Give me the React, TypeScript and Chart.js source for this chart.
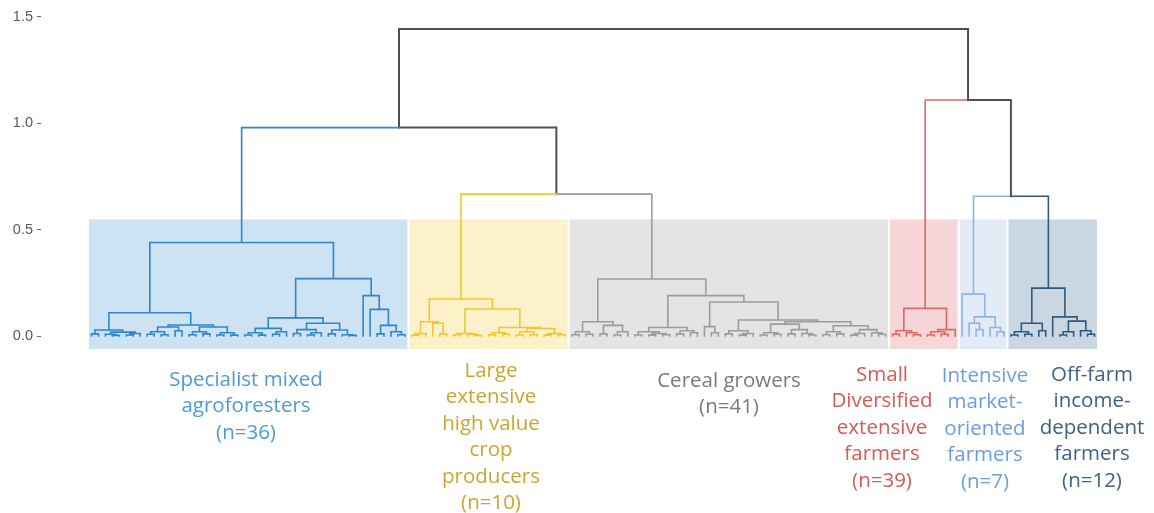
import React, { useEffect, useRef } from "react";
import { Chart, registerables } from "chart.js";

Chart.register(...registerables);

type TreeNode = 0 | [number, TreeNode, TreeNode];

// ---- DATA ----
// Each cluster subtree: leaf = 0, merge = [height, left, right]
const blueTree: TreeNode = [0.44,
  [0.109,
    [0.028, [0.01, 0, 0], [0.018, [0.008, 0, [0.003, 0, 0]], [0.012, [0.005, 0, 0], 0]]],
    [0.052,
      [0.042, [0.02, [0.008, 0, 0], [0.006, 0, 0]], [0.025, 0, 0]],
      [0.042, [0.02, [0.006, 0, 0], [0.01, 0, 0]], [0.015, [0.005, 0, 0], [0.004, 0, 0]]]]],
  [0.27,
    [0.085,
      [0.036, [0.015, [0.005, 0, 0], [0.004, 0, 0]], [0.02, [0.008, 0, 0], 0]],
      [0.06, [0.03, [0.012, 0, 0], [0.015, [0.005, 0, 0], 0]], [0.028, [0.01, 0, 0], [0.006, 0, [0.003, 0, 0]]]]],
    [0.19, 0, [0.125, 0, [0.05, [0.01, 0, 0], [0.02, 0, [0.006, 0, 0]]]]]]];

const yellowTree: TreeNode = [0.174,
  [0.067, [0.012, [0.004, 0, 0], 0], [0.06, 0, [0.01, 0, 0]]],
  [0.127,
    [0.012, [0.006, 0, 0], [0.008, 0, [0.003, 0, 0]]],
    [0.04,
      [0.015, [0.006, 0, 0], [0.008, 0, 0]],
      [0.035, [0.02, [0.005, 0, 0], [0.006, 0, 0]], [0.012, [0.004, 0, 0], [0.006, 0, 0]]]]]];

const grayTree: TreeNode = [0.268,
  [0.067, [0.02, [0.006, 0, 0], [0.008, 0, 0]], [0.05, [0.01, 0, 0], [0.02, [0.005, 0, 0], 0]]],
  [0.19,
    [0.04, [0.02, [0.005, 0, 0], [0.012, [0.004, 0, 0], [0.006, 0, 0]]], [0.025, [0.01, 0, 0], [0.015, 0, 0]]],
    [0.16,
      [0.044, 0, [0.015, 0, 0]],
      [0.075,
        [0.025, [0.01, 0, 0], [0.012, [0.004, 0, 0], 0]],
        [0.067,
          [0.056, [0.015, [0.005, 0, 0], [0.008, 0, 0]], [0.03, [0.01, 0, 0], [0.012, 0, [0.005, 0, 0]]]],
          [0.048, [0.02, [0.006, 0, 0], [0.01, 0, 0]], [0.03, [0.012, [0.004, 0, 0], 0], [0.015, 0, [0.008, 0, 0]]]]]]]]];

const redTree: TreeNode = [0.13,
  [0.025, [0.008, 0, 0], [0.015, 0, [0.006, 0, 0]]],
  [0.03, [0.02, [0.005, 0, 0], [0.008, 0, 0]], 0]];

const lightTree: TreeNode = [0.197, 0, [0.09, [0.06, 0, [0.03, 0, 0]], [0.04, 0, [0.02, 0, 0]]]];

const darkTree: TreeNode = [0.225,
  [0.06, [0.02, [0.005, 0, 0], [0.008, 0, 0]], [0.025, 0, 0]],
  [0.09, 0, [0.07, [0.02, [0.005, 0, 0], 0], [0.025, 0, [0.008, 0, 0]]]]];

const clusterTrees: TreeNode[] = [blueTree, yellowTree, grayTree, redTree, lightTree, darkTree];

// Joins between clusters: [left, right, height]; k>=0 cluster index, -j = join number j (1-based)
const clusterJoins: [number, number, number][] = [
  [1, 2, 0.667],
  [0, -1, 0.98],
  [4, 5, 0.657],
  [3, -3, 1.11],
  [-2, -4, 1.443],
];

const clusterLabels: string[][] = [
  ["Specialist mixed", "agroforesters", "(n=36)"],
  ["Large", "extensive", "high value", "crop", "producers", "(n=10)"],
  ["Cereal growers", "(n=41)"],
  ["Small", "Diversified", "extensive", "farmers", "(n=39)"],
  ["Intensive", "market-", "oriented", "farmers", "(n=7)"],
  ["Off-farm", "income-", "dependent", "farmers", "(n=12)"],
];

const yTickValues = [0, 0.5, 1.0, 1.5];
const boxRange = [-0.061, 0.548];

// ---- STYLE ----
const lineColors = ["#2f86cc", "#f0c733", "#9c9c9c", "#e26565", "#8db5e6", "#2f5a80"];
const boxColors = ["#cde2f3", "#fcf1c9", "#e4e4e4", "#f6d6d6", "#e3ebf7", "#cad6e2"];
const labelColors = ["#4b9bd6", "#c9a632", "#7a7a7a", "#d65a55", "#6c9de0", "#3e6185"];
const joinColor = "#505050";
const labelCenterX = [246, 491, 729, 882, 985, 1092];
const labelFirstY = [380, 371, 381, 375, 376, 375];
const labelLineH = 26.5;

type Pt = { x: number; y: number | null };

function buildSegments() {
  let counter = 0;
  const segs: Record<string, Pt[]> = {};
  const clusterRanges: [number, number][] = [];
  const add = (color: string, x0: number, h0: number, h1: number, x1: number) => {
    if (!segs[color]) segs[color] = [];
    segs[color].push({ x: x0, y: h0 }, { x: x0, y: h1 }, { x: x1, y: h1 }, { x: x1, y: null });
  };
  const layout = (node: TreeNode, color: string): { x: number; h: number } => {
    if (node === 0) {
      const x = counter++;
      return { x, h: 0 };
    }
    const [h, a, b] = node;
    const l = layout(a, color);
    const r = layout(b, color);
    const x = (l.x + r.x) / 2;
    add(color, l.x, l.h, h, x);
    add(color, r.x, r.h, h, x);
    return { x, h };
  };
  const resolveCluster = (k: number) => {
    const start = counter;
    const res = layout(clusterTrees[k], lineColors[k]);
    clusterRanges[k] = [start, counter - 1];
    return { ...res, color: lineColors[k] };
  };
  const doJoin = (j: number): { x: number; h: number } => {
    const [a, b, h] = clusterJoins[j];
    const la = a < 0 ? { ...doJoin(-a - 1), color: joinColor } : resolveCluster(a);
    const lb = b < 0 ? { ...doJoin(-b - 1), color: joinColor } : resolveCluster(b);
    const x = (la.x + lb.x) / 2;
    add(la.color, la.x, la.h, h, x);
    add(lb.color, lb.x, lb.h, h, x);
    return { x, h };
  };
  doJoin(clusterJoins.length - 1);
  return { segs, clusterRanges, nLeaves: counter };
}

export default function App() {
  const ref = useRef<HTMLCanvasElement | null>(null);
  useEffect(() => {
    const canvas = ref.current;
    if (!canvas) return;
    const { segs, clusterRanges, nLeaves } = buildSegments();

    const W = 1154, H = 513;
    const axisW = 41;
    const padRight = 4;
    const px0 = 88, px1 = 1098;
    const y15 = 17, y0 = 336;
    const topPx = 8, botPx = 356;

    const datasets = Object.keys(segs).map((color) => ({
      data: segs[color],
      borderColor: color,
      borderWidth: color === joinColor ? 2 : 1.6,
      showLine: true,
      pointRadius: 0,
      spanGaps: false,
      fill: false,
    }));

    const boxPlugin = {
      id: "boxes",
      beforeDatasetsDraw(chart: any) {
        const { ctx, scales } = chart;
        const xs = scales.x, ys = scales.y;
        ctx.save();
        clusterRanges.forEach(([a, b], i) => {
          const x0 = xs.getPixelForValue(a - 0.5) + 1;
          const x1 = xs.getPixelForValue(b + 0.5) - 1;
          const yt = ys.getPixelForValue(boxRange[1]);
          const yb = ys.getPixelForValue(boxRange[0]);
          ctx.fillStyle = boxColors[i];
          ctx.fillRect(x0, yt, x1 - x0, yb - yt);
        });
        ctx.restore();
      },
      afterDraw(chart: any) {
        const { ctx } = chart;
        ctx.save();
        ctx.font = '20.5px "Open Sans", "Noto Sans", sans-serif';
        ctx.textAlign = "center";
        ctx.textBaseline = "middle";
        clusterLabels.forEach((lines, i) => {
          ctx.fillStyle = labelColors[i];
          lines.forEach((t, k) => {
            ctx.fillText(t, labelCenterX[i], labelFirstY[i] + k * labelLineH);
          });
        });
        ctx.restore();
      },
    };

    const chart = new Chart(canvas, {
      type: "scatter",
      data: { datasets: datasets as any },
      options: {
        animation: false,
        responsive: false,
        layout: { padding: { left: 0, right: padRight, top: topPx, bottom: H - botPx } },
        plugins: { legend: { display: false }, tooltip: { enabled: false } },
        elements: { line: { tension: 0, borderJoinStyle: "miter", borderCapStyle: "square" } },
        scales: {
          x: { type: "linear", display: false, min: 0, max: nLeaves },
          y: {
            type: "linear",
            min: -0.1,
            max: 1.55,
            afterFit(scale: any) { scale.width = axisW; },
            afterBuildTicks(scale: any) { scale.ticks = yTickValues.map((v) => ({ value: v })); },
            border: { display: false },
            grid: { drawOnChartArea: false, drawTicks: true, tickLength: 4, color: "#666" },
            ticks: {
              color: "#5a5a5a",
              padding: 4,
              font: { family: '"Liberation Sans", Arial, sans-serif', size: 14.5 },
              callback: (v: any) => Number(v).toFixed(1),
            },
          },
        },
      },
      plugins: [boxPlugin],
    });

    // calibrate axes against the actual chart area so marks land where intended
    const area = chart.chartArea;
    const s = (px1 - px0) / nLeaves;
    const xMin = -0.5 - (px0 - area.left) / s;
    const xMax = xMin + (area.right - area.left) / s;
    const ppu = (y0 - y15) / 1.5;
    const yMax = 1.5 + (y15 - area.top) / ppu;
    const yMin = -(area.bottom - y0) / ppu;
    const opts: any = chart.options.scales;
    opts.x.min = xMin; opts.x.max = xMax;
    opts.y.min = yMin; opts.y.max = yMax;
    chart.update();

    return () => chart.destroy();
  }, []);

  return (
    <div style={{ position: "fixed", left: 0, top: 0, width: 1154, height: 513, background: "#fff" }}>
      <canvas ref={ref} width={1154} height={513} style={{ display: "block" }} />
    </div>
  );
}
